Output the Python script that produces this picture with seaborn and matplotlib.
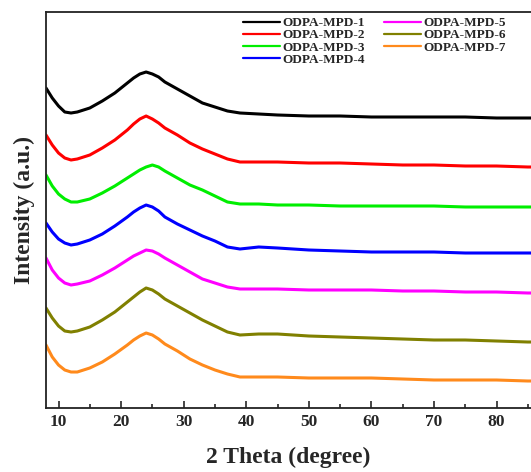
import numpy as np
import pandas as pd
import matplotlib
matplotlib.use("Agg")
import matplotlib.pyplot as plt
import seaborn as sns
from matplotlib.ticker import MultipleLocator

two_theta = [8, 9, 10, 11, 12, 13, 15, 17, 19, 21, 22, 23, 24, 25, 26, 27, 29, 31,
             33, 35, 37, 39, 42, 45, 50, 55, 60, 65, 70, 75, 80, 85, 88]

mpd1 = [320, 310, 302, 296, 295, 296, 300, 307, 315, 325, 330, 334, 336, 334, 331, 326, 319, 312,
        305, 301, 297, 295, 294, 293, 292, 292, 291, 291, 291, 291, 290, 290, 290]
mpd2 = [273, 263, 255, 250, 248, 249, 253, 260, 268, 278, 284, 289, 292, 289, 285, 280, 273, 265,
        259, 254, 249, 246, 246, 246, 245, 245, 244, 243, 243, 242, 242, 241, 241]
mpd3 = [233, 222, 214, 209, 206, 206, 209, 215, 222, 230, 234, 238, 241, 243, 241, 237, 230, 223,
        218, 212, 206, 204, 204, 203, 203, 202, 202, 202, 202, 201, 201, 201, 201]
mpd4 = [185, 176, 169, 165, 163, 164, 168, 174, 182, 191, 196, 200, 203, 201, 197, 191, 184, 178,
        172, 167, 161, 159, 161, 160, 158, 157, 156, 156, 156, 155, 155, 155, 155]
mpd5 = [150, 138, 130, 125, 123, 124, 127, 133, 140, 148, 152, 155, 158, 157, 154, 150, 143, 136,
        129, 125, 121, 119, 119, 119, 118, 118, 118, 117, 117, 116, 116, 115, 115]
mpd6 = [100, 90, 82, 77, 76, 77, 81, 88, 96, 106, 111, 116, 120, 118, 114, 109, 102, 95,
        88, 82, 76, 73, 74, 74, 72, 71, 70, 69, 68, 68, 67, 66, 66]
mpd7 = [63, 51, 43, 38, 36, 36, 40, 46, 54, 63, 68, 72, 75, 73, 69, 64, 57, 49,
        43, 38, 34, 31, 31, 31, 30, 30, 30, 29, 28, 28, 28, 27, 27]

names = ["ODPA-MPD-1", "ODPA-MPD-2", "ODPA-MPD-3", "ODPA-MPD-4",
         "ODPA-MPD-5", "ODPA-MPD-6", "ODPA-MPD-7"]
colors = ["#000000", "#ff0000", "#00ee00", "#0000ff", "#ff00ff", "#808000", "#ff8a1c"]
series = [mpd1, mpd2, mpd3, mpd4, mpd5, mpd6, mpd7]
xticks = [10, 20, 30, 40, 50, 60, 70, 80]

df = pd.concat([pd.DataFrame({"x": two_theta, "y": s, "sample": n})
                for n, s in zip(names, series)], ignore_index=True)

sns.set_style("ticks")
plt.rcParams["font.family"] = ["Liberation Serif", "DejaVu Serif"]
plt.rcParams["font.weight"] = "bold"

fig = plt.figure(figsize=(5.31, 4.72), dpi=100)
ax = fig.add_axes([46 / 531, 64 / 472, 485 / 531, 396 / 472])

sns.lineplot(data=df, x="x", y="y", hue="sample", palette=dict(zip(names, colors)),
             linewidth=2.2, ax=ax, legend=True, sort=True)

ax.set_xlim(8, 8 + 485 / 6.257)
ax.set_ylim(0, 396)
ax.set_xticks(xticks)
ax.set_xticklabels([str(t) for t in xticks], fontsize=12.5, fontweight="bold")
ax.xaxis.set_minor_locator(MultipleLocator(5))
ax.tick_params(axis="x", which="major", direction="in", length=5, width=1.2, pad=4)
ax.tick_params(axis="x", which="minor", direction="in", length=3, width=1.2)
ax.set_yticks([])
for sp in ax.spines.values():
    sp.set_linewidth(1.3)
    sp.set_color("#222222")
ax.spines["right"].set_visible(False)

ax.set_xlabel("2 Theta (degree)", fontsize=17, fontweight="bold", labelpad=12.5)
ax.set_ylabel("Intensity (a.u.)", fontsize=17, fontweight="bold", labelpad=8)

handles, labels = ax.get_legend_handles_labels()
leg = ax.legend(handles, labels, ncol=2, loc="upper left",
                bbox_to_anchor=(243 / 531, 1 - 17 / 472), bbox_transform=fig.transFigure,
                frameon=False, fontsize=9.5, handlelength=2.8, handletextpad=0.22,
                columnspacing=1.4, labelspacing=0.0, borderpad=0, borderaxespad=0)
for t in leg.get_texts():
    t.set_fontweight("bold")
for l in leg.get_lines():
    l.set_linewidth(1.6)

fig.savefig("out.png", dpi=100)
